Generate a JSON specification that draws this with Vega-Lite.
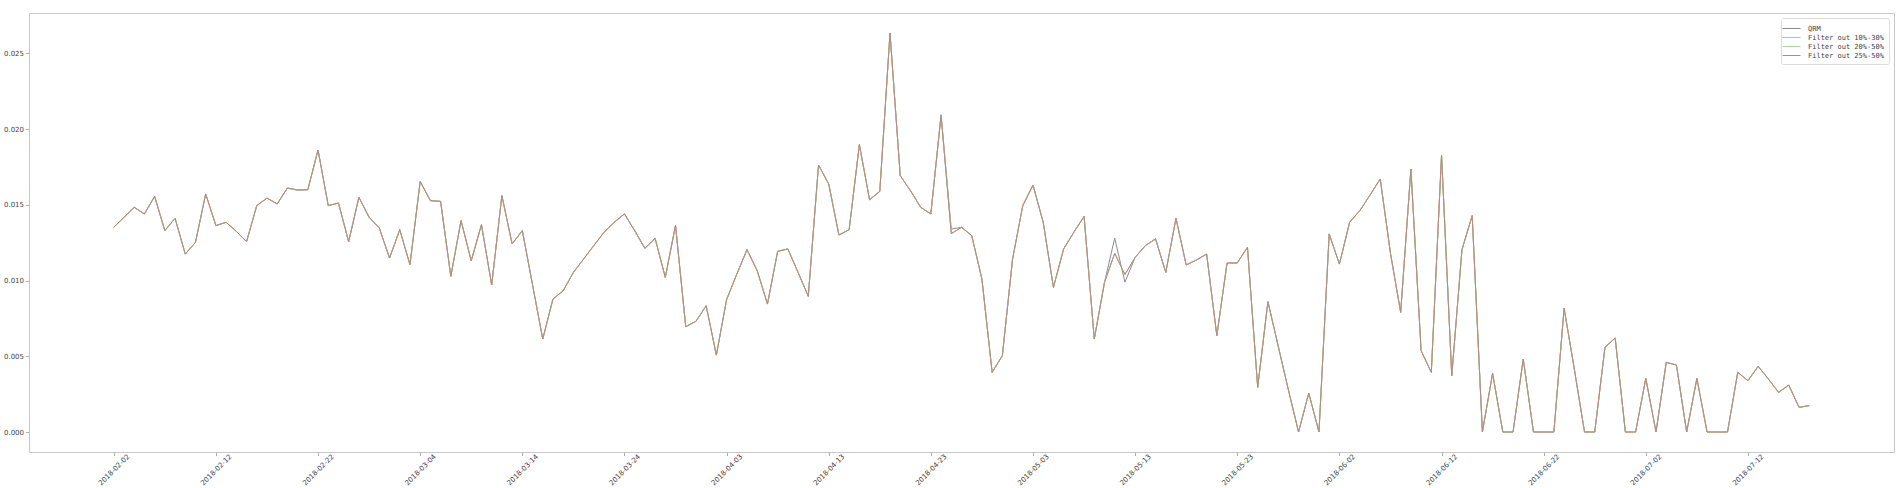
{
 "$schema": "https://vega.github.io/schema/vega-lite/v6.json",
 "width": 1865,
 "height": 439,
 "autosize": {"type": "none"},
 "padding": {"left": 29, "top": 13, "right": 8, "bottom": 36},
 "background": "white",
 "config": {"view": {"stroke": "#c8c8c8", "strokeWidth": 1}, "font": "DejaVu Sans"},
 "data": {"values": [
  {"d":"2018-02-02","q":0.01352,"f":0.01352},{"d":"2018-02-03","q":0.01418,"f":0.01418},{"d":"2018-02-04","q":0.01484,"f":0.01484},{"d":"2018-02-05","q":0.0144,"f":0.0144},
  {"d":"2018-02-06","q":0.01556,"f":0.01556},{"d":"2018-02-07","q":0.0133,"f":0.0133},{"d":"2018-02-08","q":0.01411,"f":0.01411},{"d":"2018-02-09","q":0.01175,"f":0.01175},
  {"d":"2018-02-10","q":0.01253,"f":0.01253},{"d":"2018-02-11","q":0.01572,"f":0.01572},{"d":"2018-02-12","q":0.01363,"f":0.01363},{"d":"2018-02-13","q":0.01385,"f":0.01385},
  {"d":"2018-02-14","q":0.01325,"f":0.01325},{"d":"2018-02-15","q":0.01257,"f":0.01257},{"d":"2018-02-16","q":0.01495,"f":0.01495},{"d":"2018-02-17","q":0.01545,"f":0.01545},
  {"d":"2018-02-18","q":0.01506,"f":0.01506},{"d":"2018-02-19","q":0.01611,"f":0.01611},{"d":"2018-02-20","q":0.01598,"f":0.01598},{"d":"2018-02-21","q":0.016,"f":0.016},
  {"d":"2018-02-22","q":0.01862,"f":0.01862},{"d":"2018-02-23","q":0.01495,"f":0.01495},{"d":"2018-02-24","q":0.01512,"f":0.01512},{"d":"2018-02-25","q":0.01257,"f":0.01257},
  {"d":"2018-02-26","q":0.0155,"f":0.0155},{"d":"2018-02-27","q":0.01418,"f":0.01418},{"d":"2018-02-28","q":0.01347,"f":0.01347},{"d":"2018-03-01","q":0.01149,"f":0.01149},
  {"d":"2018-03-02","q":0.01336,"f":0.01336},{"d":"2018-03-03","q":0.01105,"f":0.01105},{"d":"2018-03-04","q":0.01655,"f":0.01655},{"d":"2018-03-05","q":0.01528,"f":0.01528},
  {"d":"2018-03-06","q":0.01523,"f":0.01523},{"d":"2018-03-07","q":0.01028,"f":0.01028},{"d":"2018-03-08","q":0.01396,"f":0.01396},{"d":"2018-03-09","q":0.01131,"f":0.01131},
  {"d":"2018-03-10","q":0.01369,"f":0.01369},{"d":"2018-03-11","q":0.00971,"f":0.00971},{"d":"2018-03-12","q":0.01561,"f":0.01561},{"d":"2018-03-13","q":0.01242,"f":0.01242},
  {"d":"2018-03-14","q":0.0133,"f":0.0133},{"d":"2018-03-15","q":0.00973,"f":0.00973},{"d":"2018-03-16","q":0.00614,"f":0.00614},{"d":"2018-03-17","q":0.00878,"f":0.00878},
  {"d":"2018-03-18","q":0.00933,"f":0.00933},{"d":"2018-03-19","q":0.01054,"f":0.01054},{"d":"2018-03-20","q":0.01142,"f":0.01142},{"d":"2018-03-21","q":0.01231,"f":0.01231},
  {"d":"2018-03-22","q":0.01319,"f":0.01319},{"d":"2018-03-23","q":0.01385,"f":0.01385},{"d":"2018-03-24","q":0.0144,"f":0.0144},{"d":"2018-03-25","q":0.0133,"f":0.0133},
  {"d":"2018-03-26","q":0.01213,"f":0.01213},{"d":"2018-03-27","q":0.01279,"f":0.01279},{"d":"2018-03-28","q":0.01021,"f":0.01021},{"d":"2018-03-29","q":0.01365,"f":0.01365},
  {"d":"2018-03-30","q":0.00696,"f":0.00696},{"d":"2018-03-31","q":0.00731,"f":0.00731},{"d":"2018-04-01","q":0.00834,"f":0.00834},{"d":"2018-04-02","q":0.00508,"f":0.00508},
  {"d":"2018-04-03","q":0.00874,"f":0.00874},{"d":"2018-04-04","q":0.01043,"f":0.01043},{"d":"2018-04-05","q":0.01204,"f":0.01204},{"d":"2018-04-06","q":0.01065,"f":0.01065},
  {"d":"2018-04-07","q":0.00845,"f":0.00845},{"d":"2018-04-08","q":0.01193,"f":0.01193},{"d":"2018-04-09","q":0.01209,"f":0.01209},{"d":"2018-04-10","q":0.01054,"f":0.01054},
  {"d":"2018-04-11","q":0.00896,"f":0.00896},{"d":"2018-04-12","q":0.01763,"f":0.01763},{"d":"2018-04-13","q":0.01638,"f":0.01638},{"d":"2018-04-14","q":0.01301,"f":0.01301},
  {"d":"2018-04-15","q":0.01336,"f":0.01336},{"d":"2018-04-16","q":0.01898,"f":0.01898},{"d":"2018-04-17","q":0.01534,"f":0.01534},{"d":"2018-04-18","q":0.01589,"f":0.01589},
  {"d":"2018-04-19","q":0.02635,"f":0.02635},{"d":"2018-04-20","q":0.01693,"f":0.01693},{"d":"2018-04-21","q":0.01594,"f":0.01594},{"d":"2018-04-22","q":0.01484,"f":0.01484},
  {"d":"2018-04-23","q":0.0144,"f":0.0144},{"d":"2018-04-24","q":0.02094,"f":0.02094},{"d":"2018-04-25","q":0.0134,"f":0.0131},{"d":"2018-04-26","q":0.01352,"f":0.01352},
  {"d":"2018-04-27","q":0.01297,"f":0.01297},{"d":"2018-04-28","q":0.0101,"f":0.0101},{"d":"2018-04-29","q":0.00394,"f":0.00394},{"d":"2018-04-30","q":0.00504,"f":0.00504},
  {"d":"2018-05-01","q":0.01142,"f":0.01142},{"d":"2018-05-02","q":0.01495,"f":0.01495},{"d":"2018-05-03","q":0.01631,"f":0.01631},{"d":"2018-05-04","q":0.01385,"f":0.01385},
  {"d":"2018-05-05","q":0.00955,"f":0.00955},{"d":"2018-05-06","q":0.01209,"f":0.01209},{"d":"2018-05-07","q":0.01319,"f":0.01319},{"d":"2018-05-08","q":0.01424,"f":0.01424},
  {"d":"2018-05-09","q":0.00614,"f":0.00614},{"d":"2018-05-10","q":0.00988,"f":0.00988},{"d":"2018-05-11","q":0.0128,"f":0.0118},{"d":"2018-05-12","q":0.0099,"f":0.0104},
  {"d":"2018-05-13","q":0.01153,"f":0.01153},{"d":"2018-05-14","q":0.01231,"f":0.01231},{"d":"2018-05-15","q":0.01275,"f":0.01275},{"d":"2018-05-16","q":0.01054,"f":0.01054},
  {"d":"2018-05-17","q":0.01411,"f":0.01411},{"d":"2018-05-18","q":0.01103,"f":0.01103},{"d":"2018-05-19","q":0.01136,"f":0.01136},{"d":"2018-05-20","q":0.01175,"f":0.01175},
  {"d":"2018-05-21","q":0.00636,"f":0.00636},{"d":"2018-05-22","q":0.01116,"f":0.01116},{"d":"2018-05-23","q":0.01116,"f":0.01116},{"d":"2018-05-24","q":0.0122,"f":0.0122},
  {"d":"2018-05-25","q":0.00295,"f":0.00295},{"d":"2018-05-26","q":0.00861,"f":0.00861},{"d":"2018-05-27","q":0.0057,"f":0.0057},{"d":"2018-05-28","q":0.0028,"f":0.0028},
  {"d":"2018-05-29","q":0,"f":0},{"d":"2018-05-30","q":0.00257,"f":0.00257},{"d":"2018-05-31","q":0,"f":0},{"d":"2018-06-01","q":0.01308,"f":0.01308},
  {"d":"2018-06-02","q":0.01109,"f":0.01109},{"d":"2018-06-03","q":0.01385,"f":0.01385},{"d":"2018-06-04","q":0.01462,"f":0.01462},{"d":"2018-06-05","q":0.01565,"f":0.01565},
  {"d":"2018-06-06","q":0.01671,"f":0.01671},{"d":"2018-06-07","q":0.0118,"f":0.0118},{"d":"2018-06-08","q":0.0079,"f":0.0079},{"d":"2018-06-09","q":0.01737,"f":0.01737},
  {"d":"2018-06-10","q":0.00537,"f":0.00537},{"d":"2018-06-11","q":0.00394,"f":0.00394},{"d":"2018-06-12","q":0.01829,"f":0.01829},{"d":"2018-06-13","q":0.00372,"f":0.00372},
  {"d":"2018-06-14","q":0.01204,"f":0.01204},{"d":"2018-06-15","q":0.01429,"f":0.01429},{"d":"2018-06-16","q":0,"f":0},{"d":"2018-06-17","q":0.00387,"f":0.00387},
  {"d":"2018-06-18","q":0,"f":0},{"d":"2018-06-19","q":0,"f":0},{"d":"2018-06-20","q":0.00482,"f":0.00482},{"d":"2018-06-21","q":0,"f":0},
  {"d":"2018-06-22","q":0,"f":0},{"d":"2018-06-23","q":0,"f":0},{"d":"2018-06-24","q":0.00817,"f":0.00817},{"d":"2018-06-25","q":0.00416,"f":0.00416},
  {"d":"2018-06-26","q":0,"f":0},{"d":"2018-06-27","q":0,"f":0},{"d":"2018-06-28","q":0.00559,"f":0.00559},{"d":"2018-06-29","q":0.00621,"f":0.00621},
  {"d":"2018-06-30","q":0,"f":0},{"d":"2018-07-01","q":0,"f":0},{"d":"2018-07-02","q":0.00354,"f":0.00354},{"d":"2018-07-03","q":0,"f":0},
  {"d":"2018-07-04","q":0.0046,"f":0.0046},{"d":"2018-07-05","q":0.00442,"f":0.00442},{"d":"2018-07-06","q":0,"f":0},{"d":"2018-07-07","q":0.00354,"f":0.00354},
  {"d":"2018-07-08","q":0,"f":0},{"d":"2018-07-09","q":0,"f":0},{"d":"2018-07-10","q":0,"f":0},{"d":"2018-07-11","q":0.00394,"f":0.00394},
  {"d":"2018-07-12","q":0.00339,"f":0.00339},{"d":"2018-07-13","q":0.00434,"f":0.00434},{"d":"2018-07-14","q":0.0035,"f":0.0035},{"d":"2018-07-15","q":0.00262,"f":0.00262},
  {"d":"2018-07-16","q":0.0031,"f":0.0031},{"d":"2018-07-17","q":0.00163,"f":0.00163},{"d":"2018-07-18","q":0.00174,"f":0.00174}
 ]},
 "encoding": {
  "x": {
   "field": "d", "type": "temporal",
   "scale": {"type": "utc", "domain": [
    {"year": 2018, "month": 1, "date": 24, "hours": 16, "minutes": 48, "utc": true},
    {"year": 2018, "month": 7, "date": 26, "hours": 7, "minutes": 12, "utc": true}]},
   "axis": {
    "title": null, "grid": false, "domain": false,
    "values": [
     {"year": 2018, "month": 2, "date": 2, "utc": true},
     {"year": 2018, "month": 2, "date": 12, "utc": true},
     {"year": 2018, "month": 2, "date": 22, "utc": true},
     {"year": 2018, "month": 3, "date": 4, "utc": true},
     {"year": 2018, "month": 3, "date": 14, "utc": true},
     {"year": 2018, "month": 3, "date": 24, "utc": true},
     {"year": 2018, "month": 4, "date": 3, "utc": true},
     {"year": 2018, "month": 4, "date": 13, "utc": true},
     {"year": 2018, "month": 4, "date": 23, "utc": true},
     {"year": 2018, "month": 5, "date": 3, "utc": true},
     {"year": 2018, "month": 5, "date": 13, "utc": true},
     {"year": 2018, "month": 5, "date": 23, "utc": true},
     {"year": 2018, "month": 6, "date": 2, "utc": true},
     {"year": 2018, "month": 6, "date": 12, "utc": true},
     {"year": 2018, "month": 6, "date": 22, "utc": true},
     {"year": 2018, "month": 7, "date": 2, "utc": true},
     {"year": 2018, "month": 7, "date": 12, "utc": true}],
    "format": "%Y-%m-%d", "labelAngle": -45, "labelAlign": "center", "labelBaseline": "middle",
    "labelPadding": 14, "labelFontSize": 7, "labelColor": "#444444", "tickColor": "#b0b0b0",
    "tickSize": 3.5, "labelOverlap": false, "labelFlush": false
   }
  }
 },
 "layer": [
  {
   "mark": {"type": "line", "strokeWidth": 1},
   "encoding": {
    "y": {"field": "q", "type": "quantitative",
     "scale": {"domain": [-0.00132, 0.02767], "nice": false, "zero": false},
     "axis": {"title": null, "grid": false, "domain": false, "values": [0, 0.005, 0.01, 0.015, 0.02, 0.025],
      "format": ".3f", "labelFontSize": 7, "labelColor": "#444444", "tickColor": "#b0b0b0", "tickSize": 3.5, "labelPadding": 2}},
    "color": {"datum": "QRM", "type": "nominal",
     "scale": {"domain": ["QRM", "Filter out 10%-30%", "Filter out 20%-50%", "Filter out 25%-50%"],
      "range": ["#8a8a98", "#f2ae7a", "#a6d8a6", "#b38a82"]},
     "legend": {"orient": "top-right", "offset": 5, "title": null, "symbolType": "M-1.8,0H1.8", "symbolSize": 100,
      "symbolStrokeWidth": 1, "labelFont": "DejaVu Sans Mono", "labelFontSize": 7, "labelColor": "#444444",
      "strokeColor": "#dddddd", "fillColor": "white", "padding": 5, "cornerRadius": 2, "rowPadding": 0, "labelOffset": 11}}
   }
  },
  {
   "mark": {"type": "line", "strokeWidth": 1},
   "encoding": {
    "y": {"field": "f", "type": "quantitative"},
    "color": {"datum": "Filter out 10%-30%", "type": "nominal"}
   }
  },
  {
   "mark": {"type": "line", "strokeWidth": 1},
   "encoding": {
    "y": {"field": "f", "type": "quantitative"},
    "color": {"datum": "Filter out 20%-50%", "type": "nominal"}
   }
  },
  {
   "mark": {"type": "line", "strokeWidth": 1},
   "encoding": {
    "y": {"field": "f", "type": "quantitative"},
    "color": {"datum": "Filter out 25%-50%", "type": "nominal"}
   }
  }
 ]
}
